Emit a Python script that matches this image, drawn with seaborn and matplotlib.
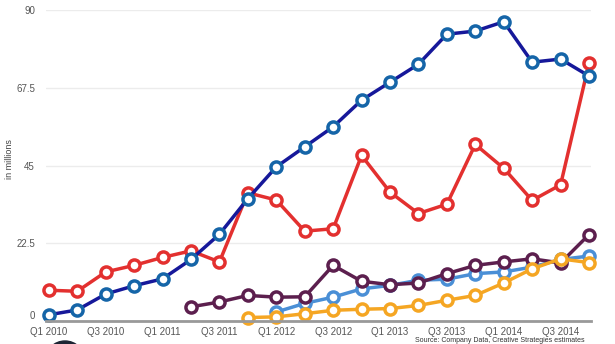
import matplotlib
matplotlib.use("Agg")
import matplotlib.pyplot as plt
import seaborn as sns
import numpy as np
import pandas as pd
from matplotlib.patches import Circle

quarters = [f"Q{q} {y}" for y in range(2010, 2015) for q in range(1, 5)]
tick_labels = ["Q1 2010", "Q3 2010", "Q1 2011", "Q3 2011", "Q1 2012", "Q3 2012",
               "Q1 2013", "Q3 2013", "Q1 2014", "Q3 2014"]
y_ticks = [0, 22.5, 45, 67.5, 90]
y_tick_labels = ["0", "22.5", "45", "67.5", "90"]

nan = np.nan
navy = [1.8, 3.2, 7.8, 10.2, 12.2, 17.8, 25.1, 35.4, 44.6, 50.4, 56.2, 63.9,
        69.1, 74.3, 83.0, 83.9, 86.6, 74.9, 75.8, 70.9]
red = [8.9, 8.6, 14.2, 16.1, 18.4, 20.3, 17.1, 37.1, 35.0, 26.0, 26.7, 47.9,
       37.3, 31.1, 33.8, 51.1, 44.2, 34.9, 39.4, 74.6]
purple = [nan, nan, nan, nan, nan, 4.1, 5.5, 7.4, 6.9, 7.0, 16.1, 11.5,
          10.5, 11.0, 13.7, 16.1, 17.1, 18.0, 16.8, 25.0]
lightblue = [nan, nan, nan, nan, nan, nan, nan, nan, 2.6, 5.1, 6.9, 9.3,
             10.3, 11.8, 12.1, 13.7, 14.2, 15.6, 17.8, 18.8]
orange = [nan, nan, nan, nan, nan, nan, nan, 1.0, 1.2, 2.1, 3.1, 3.4,
          3.6, 4.5, 6.0, 7.4, 11.0, 15.1, 18.0, 16.9]

sns.set_theme(style="white")
plt.rcParams['font.family'] = ['Liberation Sans', 'DejaVu Sans']

fig = plt.figure(figsize=(6.15, 3.44), dpi=100)
ax = fig.add_axes([46/615, 1-321/344, (591-46)/615, (321-10)/344])

x = np.arange(len(quarters))
series = [
    (lightblue, "#4a8fd6", "#4a8fd6"),
    (purple, "#5c1f4e", "#5c1f4e"),
    (orange, "#f5a623", "#f5a623"),
    (red, "#e3302f", "#e3302f"),
    (navy, "#16189a", "#1565a8"),
]
for vals, lc, mc in series:
    df = pd.DataFrame({"x": x, "y": vals}).dropna()
    sns.lineplot(data=df, x="x", y="y", ax=ax, color=lc, linewidth=2.5,
                 marker="o", markersize=8, markerfacecolor="white",
                 markeredgecolor=mc, markeredgewidth=2.5, clip_on=False)

ax.set_xlim(-0.1, 19.07)
ax.set_ylim(0, 90)
ax.set_yticks(y_ticks)
ax.set_yticklabels(y_tick_labels)
ax.set_xticks(x[::2])
ax.set_xticklabels(tick_labels)
ax.tick_params(axis="both", length=0, labelsize=7, colors="#555555")
ax.tick_params(axis="y", pad=8)
ax.tick_params(axis="x", pad=4)
ax.get_yticklabels()[0].set_va("bottom")
ax.grid(axis="y", color="#ececec", linewidth=1)
ax.grid(axis="x", visible=False)
for s in ["top", "right", "left"]:
    ax.spines[s].set_visible(False)
ax.spines["bottom"].set_color("#999999")
ax.spines["bottom"].set_linewidth(2)
ax.set_xlabel("")
ax.set_ylabel("in millions", fontsize=6.5, color="#444444")
ax.yaxis.set_label_coords(-0.058, 0.52)

fig.text(585/615, 1-341/344, "Source: Company Data, Creative Strategies estimates",
         ha="right", va="center", fontsize=5, color="#333333")
fig.patches.append(Circle((0.65, -0.17), 0.20, transform=fig.dpi_scale_trans,
                          color="#1c2433", clip_on=False))

fig.savefig("out.png", dpi=100)
